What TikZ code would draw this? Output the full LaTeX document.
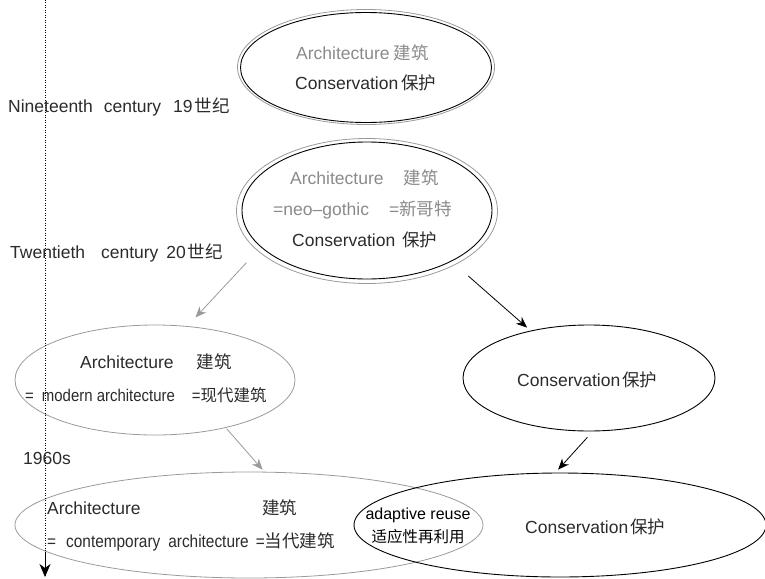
\documentclass[tikz,border=0pt]{standalone}
\usepackage{fontspec}
\setmainfont{Liberation Sans}
\newfontfamily\cjk{Noto Sans CJK SC}
\newfontfamily\plainsans{Liberation Sans}
\newfontfamily\narrowsans{Liberation Sans}[FakeStretch=0.88]
\usetikzlibrary{shapes.geometric,arrows.meta}
\definecolor{txt}{HTML}{2B2B2B}
\definecolor{gtxt}{HTML}{8A8A8A}
\definecolor{gline}{HTML}{9A9A9A}
\newcommand{\zh}[2][17.5]{{\cjk\fontsize{#1}{#1}\selectfont #2}}
\begin{document}
\begin{tikzpicture}[x=1pt,y=-1pt,
  ell/.style={ellipse, draw=black, inner sep=0pt, line width=0.9pt},
  gell/.style={ellipse, draw=gline, inner sep=0pt, line width=0.8pt},
  lbl/.style={inner sep=0pt, anchor=west, text=txt, font=\fontsize{17.5}{20}\selectfont},
  clbl/.style={inner sep=0pt, anchor=center, text=txt, font=\fontsize{16}{19}\selectfont},
  barrow/.style={draw=black, -{Stealth[length=11pt,width=9pt]}, line width=0.8pt},
  garrow/.style={draw=gline, -{Stealth[length=11pt,width=9pt]}, line width=0.8pt}
]
\useasboundingbox (0,0) rectangle (765,578);

% ellipses
\node[gell, minimum width=257pt, minimum height=115pt] (e1o) at (366,67) {};
\node[ell, minimum width=251pt, minimum height=110pt] (e1) at (366,67.5) {};
\node[gell, minimum width=261pt, minimum height=145pt] (e2o) at (367,211) {};
\node[ell, minimum width=250pt, minimum height=137pt] (e2) at (367,210.5) {};
\node[gell, minimum width=280pt, minimum height=110pt] (e3) at (155,380) {};
\node[ell, minimum width=252pt, minimum height=106pt] (e4) at (589,378) {};
\node[gell, minimum width=468pt, minimum height=106pt] (e5) at (249,525) {};
\node[ell, minimum width=412pt, minimum height=104pt] (e6) at (560,525) {};

% time line
\coordinate (t0) at (45,0);
\coordinate (t1) at (45,577);
\coordinate (tm) at (45,552);
\draw[line width=0.7pt, dash pattern=on 0.8pt off 1.7pt] (t0) -- (t1);
\draw[line width=0.8pt, fill=black, -{Stealth[length=13pt,width=11pt,inset=4pt]}] (tm) -- (t1);

% arrows
\draw[garrow, shorten <=16pt, shorten >=11.8pt] (e2o.200.6) -- (e3.59.3);
\draw[barrow, shorten <=22pt, shorten >=4.6pt] (e2.329.2) -- (e4.141.2);
\draw[garrow, shorten <=1pt, shorten >=2.6pt] (e3.326.5) -- (e5.74.5);
\draw[barrow, shorten <=8pt, shorten >=4pt] (e4.274.9) -- (e6.95.2);

% period labels
\node[lbl] (n19) at (8,107) {Nineteenth\hspace{11pt}century\hspace{12pt}19\hspace{2pt}\zh{世纪}};
\node[lbl] (n20) at (10,253) {Twentieth\hspace{16pt}century\hspace{8pt}20\hspace{2pt}\zh{世纪}};
\node[lbl] (n60) at (23,458) {1960s};

% top ellipse
\node[lbl] (t1a) at (296,53) {\color{gtxt}Architecture\hspace{4pt}\zh{建筑}};
\node[lbl] (t1b) at (295,83) {Conservation\hspace{3pt}\zh{保护}};

% second ellipse
\node[lbl] (t2a) at (290,178) {\color{gtxt}Architecture\hspace{20pt}\zh{建筑}};
\node[lbl] (t2b) at (273,210) {\color{gtxt}=neo\textendash gothic\hspace{20pt}=\zh{新哥特}};
\node[lbl] (t2c) at (292,240) {Conservation\hspace{7pt}\zh{保护}};

% left middle ellipse
\node[lbl] (t3a) at (80,362) {Architecture\hspace{23pt}\zh{建筑}};
\node[lbl] (t3b) at (25,395) {\narrowsans\fontsize{17}{20}\selectfont =\hspace{8pt}modern architecture\hspace{17pt}=\zh[16.5]{现代建筑}};

% right middle ellipse
\node[lbl] (t4) at (517,380) {Conservation\hspace{2pt}\zh{保护}};

% bottom left ellipse
\node[lbl] (t5a) at (47,508) {Architecture};
\node[lbl] (t5b) at (262,508) {\zh{建筑}};
\node[lbl] (t5c) at (47,542) {\narrowsans\fontsize{17.5}{20}\selectfont =\hspace{10pt}contemporary\hspace{8pt}architecture\hspace{7pt}=\zh{当代建筑}};

% overlap
\node[clbl, text=black] (t6a) at (418,515) {\plainsans adaptive reuse};
\node[clbl, text=black] (t6b) at (418,537) {\zh[15.5]{适应性再利用}};

% bottom right ellipse
\node[lbl] (t7) at (525,527) {Conservation\hspace{2pt}\zh{保护}};
\end{tikzpicture}
\end{document}
